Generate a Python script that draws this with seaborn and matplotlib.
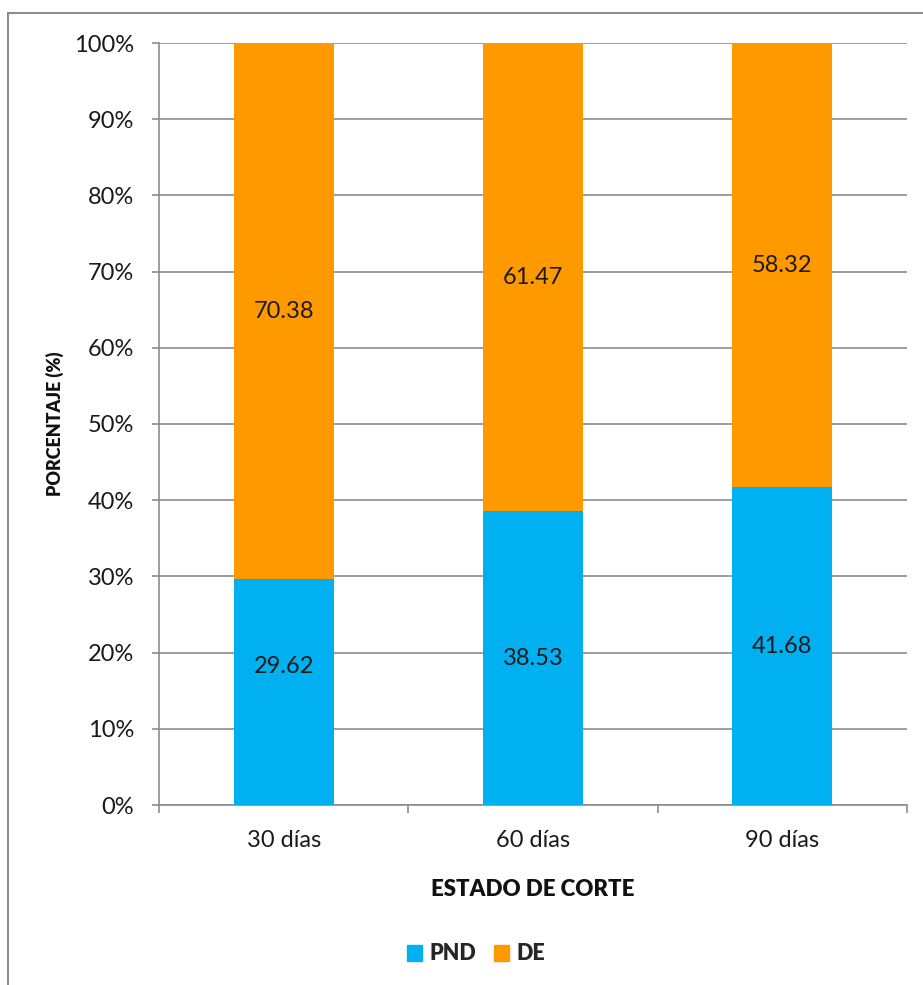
import matplotlib
matplotlib.use("Agg")
import matplotlib.pyplot as plt
import matplotlib.patches as mpatches
import seaborn as sns
import pandas as pd
import numpy as np

categories = ["30 días", "60 días", "90 días"]
pnd = [29.62, 38.53, 41.68]
de = [70.38, 61.47, 58.32]
series_names = ["PND", "DE"]
y_ticks = [0, 10, 20, 30, 40, 50, 60, 70, 80, 90, 100]

BLUE = "#00B0F0"
ORANGE = "#FF9900"
GRID = "#8C8C8C"

sns.set_theme(style="white")
plt.rcParams["font.family"] = ["Lato", "DejaVu Sans"]

fig = plt.figure(figsize=(9.23, 9.85), dpi=100)
ax = fig.add_axes([159/923, 1-805/985, (907-159)/923, (805-43)/985])

df = pd.DataFrame({"cat": categories, "PND": pnd, "DE": de})
df["total"] = df["PND"] + df["DE"]

sns.barplot(data=df, x="cat", y="total", color=ORANGE, saturation=1,
            width=0.4, ax=ax, edgecolor="none", zorder=3)
sns.barplot(data=df, x="cat", y="PND", color=BLUE, saturation=1,
            width=0.4, ax=ax, edgecolor="none", zorder=3)

ax.set_ylim(0, 100)
ax.set_xlim(-0.5, len(categories) - 0.5)
ax.set_yticks(y_ticks)
ax.set_yticklabels([f"{t}%" for t in y_ticks], fontsize=17, color="#1a1a1a")
ax.tick_params(axis="y", length=5, width=1.2, color=GRID, pad=13, left=True)
ax.set_xticks(range(len(categories)))
ax.set_xticklabels(categories, fontsize=17, color="#1a1a1a")
ax.tick_params(axis="x", length=0, pad=18)
# category boundary ticks
ax.set_xticks(np.arange(-0.5, len(categories), 1.0), minor=True)
ax.tick_params(axis="x", which="minor", length=6, width=1.2, color=GRID, bottom=True)

ax.yaxis.grid(True, color=GRID, linewidth=1.2, zorder=0)
ax.set_axisbelow(True)
for s in ["top", "right"]:
    ax.spines[s].set_visible(False)
for s in ["left", "bottom"]:
    ax.spines[s].set_color(GRID)
    ax.spines[s].set_linewidth(1.2)

# data labels
for i, (p, d) in enumerate(zip(pnd, de)):
    py = p / 2 if i != 0 else p / 2 + 3.4
    ax.text(i, py, f"{p:.2f}", ha="center", va="center", fontsize=17, color="#1a1a1a", zorder=5)
    ax.text(i, p + d / 2, f"{d:.2f}", ha="center", va="center", fontsize=17, color="#1a1a1a", zorder=5)

ax.set_xlabel("ESTADO DE CORTE", fontsize=16, fontweight="heavy", labelpad=20, color="#111111")
ax.set_ylabel("PORCENTAJE (%)", fontsize=13, fontweight="heavy", color="#111111")
ax.yaxis.set_label_coords(-0.127, 0.5)

handles = [mpatches.Rectangle((0, 0), 1, 1, color=BLUE),
           mpatches.Rectangle((0, 0), 1, 1, color=ORANGE)]
leg = fig.legend(handles, series_names, loc="center", bbox_to_anchor=(476/923, 1-954/985),
                 ncol=2, frameon=False, handlelength=0.7, handleheight=0.7,
                 handletextpad=0.33, columnspacing=0.85,
                 prop={"family": ["Lato", "DejaVu Sans"], "weight": "heavy", "size": 15.5})

# outer chart border
border = mpatches.Rectangle((8/923, -0.1), 1.2, 1 - 13/985 + 0.1, transform=fig.transFigure,
                            fill=False, edgecolor="#8C8C8C", linewidth=1.5, zorder=10)
fig.patches.append(border)

fig.savefig("out.png", dpi=100)
